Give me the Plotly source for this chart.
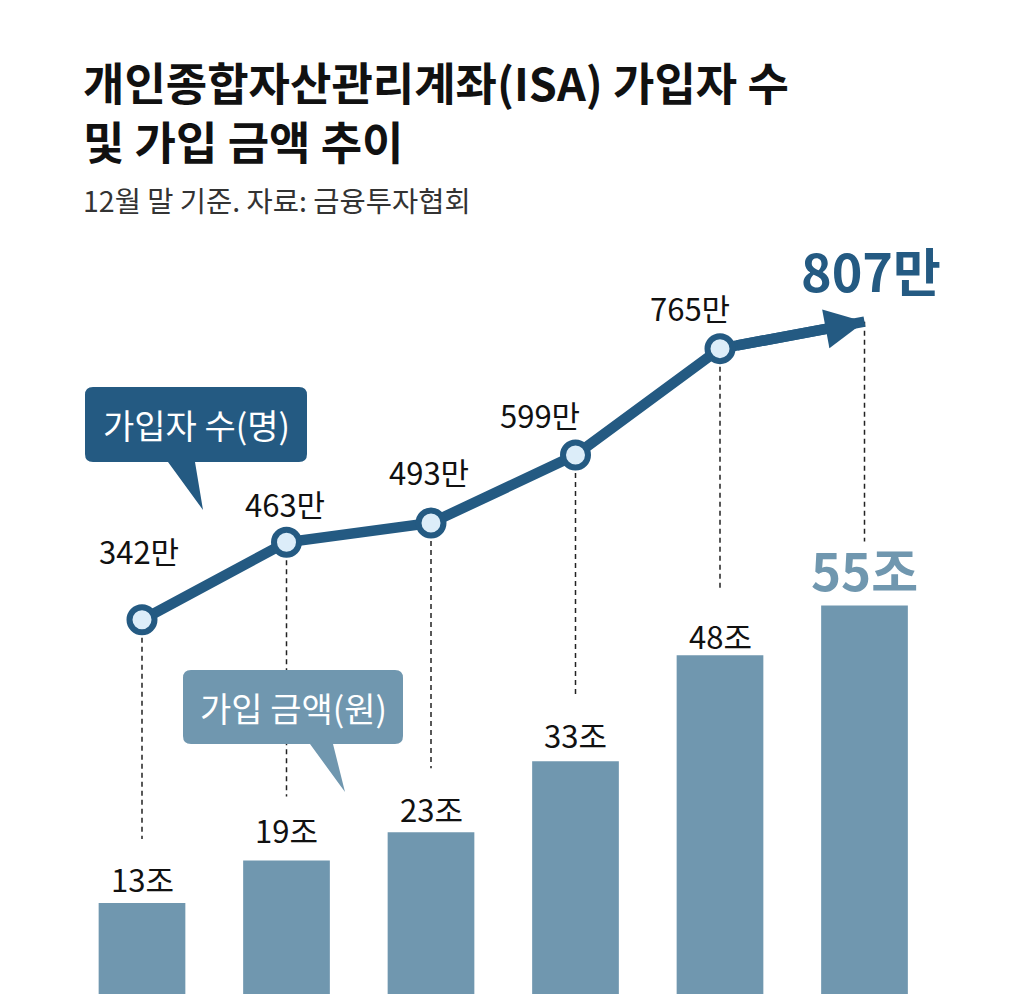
import plotly.graph_objects as go

# data
years_idx = [0, 1, 2, 3, 4, 5]
members = [342, 463, 493, 599, 765, 807]          # 가입자 수 (만 명)
amounts = [13, 19, 23, 33, 48, 55]                # 가입 금액 (조 원)
member_labels = ["342만", "463만", "493만", "599만", "765만", "807만"]
amount_labels = ["13조", "19조", "23조", "33조", "48조", "55조"]

# style / layout
W, H = 1025, 994
OFF = 8                           # page margin around the plot div
FONT = "Noto Sans CJK KR"
DARK = "#245a82"
BAR = "#7097af"
DOT = "#dcedf9"

CAT_PX = 144.5
FIRST_PX = 142 - OFF
x_lo = -FIRST_PX / CAT_PX
x_hi = x_lo + W / CAT_PX

BAR_PX = 7.08                     # px per 조
BASE = 995 - OFF                  # pixel row of the bar baseline
y_lo = -(H - BASE) / BAR_PX
y_hi = BASE / BAR_PX
LINE_PX = 0.641                   # px per 만
LINE_ZERO = 839 - OFF             # pixel row of 0만
y2_lo = -(H - LINE_ZERO) / LINE_PX
y2_hi = LINE_ZERO / LINE_PX

# label offsets in px
mem_dx = [-3, -2, -2, -36, -30, 6]
mem_dy = [69, 39, 51, 41, 41, 52]
amt_dy = [24, 31, 24, 27, 20, 37]
DASH_GAP = 64


def bar_to_line_units(v):
    frac = (v - y_lo) / (y_hi - y_lo)
    return y2_lo + frac * (y2_hi - y2_lo)


def px(x):
    return (x - OFF) / W


def py(y):
    return 1 - (y - OFF) / H


def callout(x0, y0, x1, y1, r, tb0, tb1, tip):
    pts = [
        f"M{px(x0 + r)},{py(y0)}",
        f"L{px(x1 - r)},{py(y0)}",
        f"Q{px(x1)},{py(y0)} {px(x1)},{py(y0 + r)}",
        f"L{px(x1)},{py(y1 - r)}",
        f"Q{px(x1)},{py(y1)} {px(x1 - r)},{py(y1)}",
        f"L{px(tb1)},{py(y1)}",
        f"L{px(tip[0])},{py(tip[1])}",
        f"L{px(tb0)},{py(y1)}",
        f"L{px(x0 + r)},{py(y1)}",
        f"Q{px(x0)},{py(y1)} {px(x0)},{py(y1 - r)}",
        f"L{px(x0)},{py(y0 + r)}",
        f"Q{px(x0)},{py(y0)} {px(x0 + r)},{py(y0)}",
        "Z",
    ]
    return " ".join(pts)


fig = go.Figure()

fig.add_trace(go.Bar(
    x=years_idx, y=amounts, width=0.6, base=0,
    marker=dict(color=BAR, line=dict(width=0)),
    hoverinfo="skip",
))

# dashed guide lines from line points down to bar labels
dx, dy = [], []
for i, m, a in zip(years_idx, members, amounts):
    dx += [i, i, None]
    dy += [m, bar_to_line_units(a + DASH_GAP / BAR_PX), None]
fig.add_trace(go.Scatter(
    x=dx, y=dy, yaxis="y2", mode="lines",
    line=dict(color="#222222", width=1.5, dash="5px,4px"),
    hoverinfo="skip",
))

n = len(members)
fig.add_trace(go.Scatter(
    x=years_idx, y=members, yaxis="y2", mode="lines+markers",
    line=dict(color=DARK, width=10.5, backoff=[0] * (n - 1) + [28]),
    marker=dict(
        size=[25] * (n - 1) + [0],
        color=DOT, opacity=1,
        line=dict(color=DARK, width=[6] * (n - 1) + [0]),
    ),
    hoverinfo="skip",
))

annotations = []
# arrow head on the last segment
annotations.append(dict(
    x=years_idx[-1], y=members[-1], xref="x", yref="y2",
    ax=years_idx[-2], ay=members[-2], axref="x", ayref="y2",
    text="", showarrow=True, arrowhead=2, arrowsize=0.75,
    arrowwidth=10.5, arrowcolor=DARK, startstandoff=16, standoff=0,
))

for i in range(n):
    last = i == n - 1
    annotations.append(dict(
        x=years_idx[i], y=members[i], xref="x", yref="y2",
        text=member_labels[i], showarrow=False,
        xshift=mem_dx[i], yshift=mem_dy[i], yanchor="middle",
        font=dict(family=FONT, size=52 if last else 31,
                  color=DARK if last else "#111111",
                  weight="bold" if last else "normal"),
    ))
    annotations.append(dict(
        x=years_idx[i], y=amounts[i], xref="x", yref="y",
        text=amount_labels[i], showarrow=False,
        yshift=amt_dy[i], yanchor="middle",
        font=dict(family=FONT, size=51 if last else 31,
                  color=BAR if last else "#111111",
                  weight="bold" if last else "normal"),
    ))

# title & subtitle
annotations += [
    dict(x=px(81), y=py(111), xref="paper", yref="paper", xanchor="left", yanchor="middle",
         align="left", text="개인종합자산관리계좌(ISA) 가입자 수<br>및 가입 금액 추이",
         showarrow=False,
         font=dict(family=FONT, size=45, color="#111111", weight="bold")),
    dict(x=px(81), y=py(200), xref="paper", yref="paper", xanchor="left", yanchor="middle",
         text="12월 말 기준. 자료: 금융투자협회", showarrow=False,
         font=dict(family=FONT, size=28.5, color="#333333")),
    dict(x=px(196), y=py(425), xref="paper", yref="paper", xanchor="center", yanchor="middle",
         text="가입자 수(명)", showarrow=False,
         font=dict(family=FONT, size=34, color="white")),
    dict(x=px(293), y=py(707), xref="paper", yref="paper", xanchor="center", yanchor="middle",
         text="가입 금액(원)", showarrow=False,
         font=dict(family=FONT, size=34, color="white")),
]

shapes = [
    dict(type="path", xref="paper", yref="paper", layer="above",
         path=callout(85, 387, 307, 462, 8, 168, 195, (203, 510)),
         fillcolor=DARK, line=dict(width=0)),
    dict(type="path", xref="paper", yref="paper", layer="above",
         path=callout(183, 670, 403, 744, 8, 310, 333, (345, 792)),
         fillcolor=BAR, line=dict(width=0)),
]

fig.update_layout(
    width=W, height=H,
    margin=dict(l=0, r=0, t=0, b=0, pad=0),
    paper_bgcolor="white", plot_bgcolor="white",
    showlegend=False,
    xaxis=dict(range=[x_lo, x_hi], visible=False, fixedrange=True),
    yaxis=dict(range=[y_lo, y_hi], visible=False, fixedrange=True),
    yaxis2=dict(range=[y2_lo, y2_hi], overlaying="y", visible=False, fixedrange=True),
    annotations=annotations,
    shapes=shapes,
)

fig.write_html("out.html")
